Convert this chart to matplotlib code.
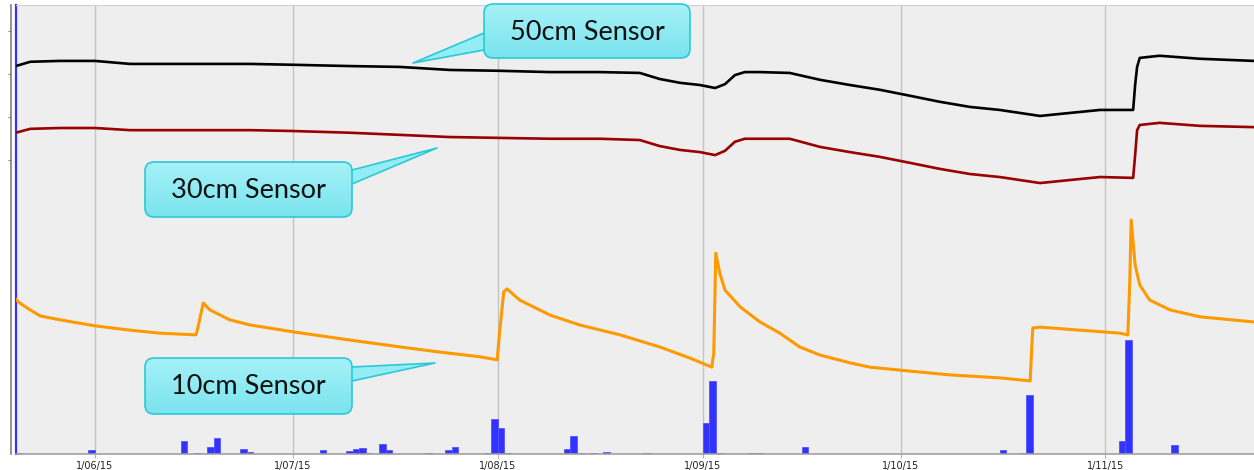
import numpy as np
import matplotlib
matplotlib.use("Agg")
import matplotlib.pyplot as plt
from matplotlib.patches import FancyBboxPatch, Polygon
from matplotlib.colors import LinearSegmentedColormap

# days since 1 June 2015
start = np.datetime64("2015-06-01T00:00")

s50_days = [-12.0, -9.8, -5.3, 0, 5.3, 15.9, 23.5, 30.0, 38.6, 46.2, 53.7, 61.3, 68.9, 76.5,
            82.5, 85.5, 88.6, 91.6, 93.9, 95.4, 96.9, 98.4, 100.7, 105.2, 109.8, 114.3, 118.8,
            123.4, 127.9, 132.5, 137.0, 143.1, 147.6, 152.2, 157.2, 157.5, 157.8, 158.2, 161.2,
            167.3, 175.5]
s50_vals = [91.8, 92.8, 93.0, 93.0, 92.3, 92.3, 92.3, 92.1, 91.8, 91.6, 90.9, 90.7, 90.4, 90.4,
            90.2, 88.8, 87.9, 87.4, 86.7, 87.6, 89.7, 90.4, 90.4, 90.2, 88.6, 87.4, 86.3,
            84.9, 83.5, 82.3, 81.6, 80.2, 80.9, 81.6, 81.6, 87.4, 91.6, 93.7, 94.2,
            93.5, 93.0]

s30_days = [-12.0, -9.8, -5.3, 0, 5.3, 15.9, 23.5, 30.0, 38.6, 46.2, 53.7, 61.3, 68.9, 76.5,
            82.5, 85.5, 88.6, 91.6, 93.9, 95.4, 96.9, 98.4, 100.7, 105.2, 109.8, 114.3, 118.8,
            123.4, 127.9, 132.5, 137.0, 143.1, 147.6, 152.2, 157.2, 157.5, 157.8, 158.2, 161.2,
            167.3, 175.5]
s30_vals = [76.3, 77.2, 77.4, 77.4, 76.9, 76.9, 76.9, 76.7, 76.3, 75.8, 75.3, 75.1, 74.9, 74.9,
            74.6, 73.2, 72.3, 71.8, 71.1, 72.1, 74.2, 74.9, 74.9, 74.9, 73.0, 71.8, 70.7,
            69.3, 67.9, 66.7, 66.0, 64.6, 65.3, 66.0, 65.8, 71.1, 76.9, 78.1, 78.6,
            77.9, 77.6]

s10_days = [-12.0, -11.4, -9.8, -8.3, -5.3, 0, 5.3, 9.8, 15.3, 15.6, 16.4, 17.4, 20.4, 23.5,
            30.0, 38.6, 46.2, 52.2, 58.3, 60.9, 61.3, 61.9, 62.4, 64.3, 68.9, 73.4, 79.5, 85.5,
            90.1, 93.4, 93.7, 94.0, 94.6, 95.4, 97.7, 100.7, 103.7, 106.7, 109.8, 114.3, 117.3,
            121.9, 129.4, 137.0, 141.6, 142.0, 143.1, 149.1, 155.2, 156.4, 156.7, 156.9, 157.5,
            158.2, 159.7, 162.8, 167.3, 175.5]
s10_vals = [37.6, 36.7, 35.1, 33.7, 32.8, 31.4, 30.4, 29.7, 29.3, 31.1, 36.7, 35.1, 32.8, 31.6,
            30.0, 28.1, 26.5, 25.3, 24.2, 23.5, 30.4, 39.3, 40.0, 37.4, 33.9, 31.6, 29.3, 26.5,
            23.9, 21.8, 25.1, 48.3, 43.7, 39.7, 35.8, 32.3, 29.7, 26.5, 24.6, 22.8, 21.8,
            21.1, 20.0, 19.3, 18.6, 30.9, 31.1, 30.4, 29.7, 29.3, 42.1, 56.0, 45.6,
            40.9, 37.4, 35.1, 33.5, 32.3]

# daily rainfall (mm)
rain_days = [-12, -1, 13, 15, 17, 18, 22, 23, 34, 38, 39, 40, 41, 43, 44, 50, 53, 54, 59, 60,
             61, 62, 71, 72, 73, 75, 77, 83, 92, 93, 94, 99, 100, 107, 137, 140, 141, 155, 156, 163]
rain_mm = [0.2, 0.8, 2.6, 0.2, 1.4, 3.2, 1.0, 0.4, 0.8, 0.6, 1.0, 1.2, 0.2, 2.0, 0.8, 0.2, 0.8,
           1.4, 0.2, 7.0, 5.2, 0.2, 1.0, 3.6, 0.2, 0.2, 0.4, 0.2, 6.2, 14.6, 0.2, 0.2, 0.2, 1.4,
           0.8, 0.2, 11.8, 2.6, 22.8, 1.8]

tick_days = [0, 30, 61, 92, 122, 153]
tick_labels = ["1/06/15", "1/07/15", "1/08/15", "1/09/15", "1/10/15", "1/11/15"]


def to_dates(days):
    return start + (np.array(days) * 24 * 60).astype("timedelta64[m]")


W, H = 1254, 470
fig = plt.figure(figsize=(W / 100, H / 100), dpi=100)
fig.patch.set_facecolor("white")

ax = fig.add_axes([16 / W, (H - 454) / H, (W - 16) / W, (454 - 5) / H])
ax.set_facecolor("#EEEEEE")
ax.set_axisbelow(True)

# rain bars
ax.bar(to_dates(rain_days), rain_mm, width=1.0, align="edge", color="#3333FF",
       edgecolor="#5555FF", linewidth=0.6, zorder=2)
ax.set_ylim(0, 89.8)
ax.set_yticks([])
ax.set_xlim(to_dates([-11.96])[0], to_dates([175.5])[0])
ax.set_xticks(to_dates(tick_days))
ax.set_xticklabels(tick_labels, fontsize=7, color="#222222")
ax.tick_params(axis="x", length=3, color="#B0B0B0", pad=2)
ax.grid(axis="x", color="#C4C4C4", linewidth=1)
ax.spines["top"].set_color("#D0D0D0")
ax.spines["right"].set_visible(False)
ax.spines["bottom"].set_color("#A0A0A0")
ax.spines["bottom"].set_linewidth(1.2)
ax.spines["left"].set_color("#3030FF")
ax.spines["left"].set_linewidth(1.6)

# sensors on twin axis
ax2 = ax.twinx()
ax2.plot(to_dates(s50_days), s50_vals, color="black", linewidth=1.9)
ax2.plot(to_dates(s30_days), s30_vals, color="#990000", linewidth=1.9)
ax2.plot(to_dates(s10_days), s10_vals, color="#FF9900", linewidth=2.2)
ax2.set_ylim(1.6, 106.0)
ax2.yaxis.tick_left()
ax2.set_yticks([70, 80, 90, 100])
ax2.set_yticklabels([])
ax2.tick_params(axis="y", length=2.5, color="#808080", width=0.8)
for s in ["top", "right", "bottom"]:
    ax2.spines[s].set_visible(False)
ax2.spines["left"].set_position(("outward", 3.6))
ax2.spines["left"].set_color("#808080")
ax2.spines["left"].set_linewidth(1.2)

# callouts drawn in pixel space
ov = fig.add_axes([0, 0, 1, 1], zorder=10)
ov.axis("off")
ov.patch.set_alpha(0)

grad = np.linspace(0, 1, 64).reshape(-1, 1)
cmap = LinearSegmentedColormap.from_list("cy", ["#A6F1F7", "#7AE4EE"])

callouts = [
    ("50cm Sensor", (484, 4, 690, 58), [(484, 33), (413, 63), (484, 50)]),
    ("30cm Sensor", (145, 162, 352, 217), [(352, 170), (437, 148), (352, 184)]),
    ("10cm Sensor", (145, 358, 352, 414), [(352, 367), (435, 363), (352, 381)]),
]
for label, (x0, y0, x1, y1), tail in callouts:
    ov.add_patch(Polygon(tail, closed=True, facecolor="#93EDF4", edgecolor="none", zorder=1))
    ov.plot([tail[0][0], tail[1][0], tail[2][0]], [tail[0][1], tail[1][1], tail[2][1]],
            color="#2CC8D8", linewidth=1.2, zorder=1.5)
    box = FancyBboxPatch((x0, y0), x1 - x0, y1 - y0,
                         boxstyle="round,pad=0,rounding_size=9",
                         facecolor="none", edgecolor="#2CC8D8", linewidth=1.2, zorder=3)
    ov.add_patch(box)
    im = ov.imshow(grad, cmap=cmap, extent=(x0, x1, y1, y0), aspect="auto", zorder=2)
    im.set_clip_path(box)
    ov.text((x0 + x1) / 2, (y0 + y1) / 2 + 1, label, ha="center", va="center",
            fontsize=19.5, family="Lato", color="#111111", zorder=4)
ov.set_xlim(0, W)
ov.set_ylim(H, 0)

fig.savefig("out.png", dpi=100)
